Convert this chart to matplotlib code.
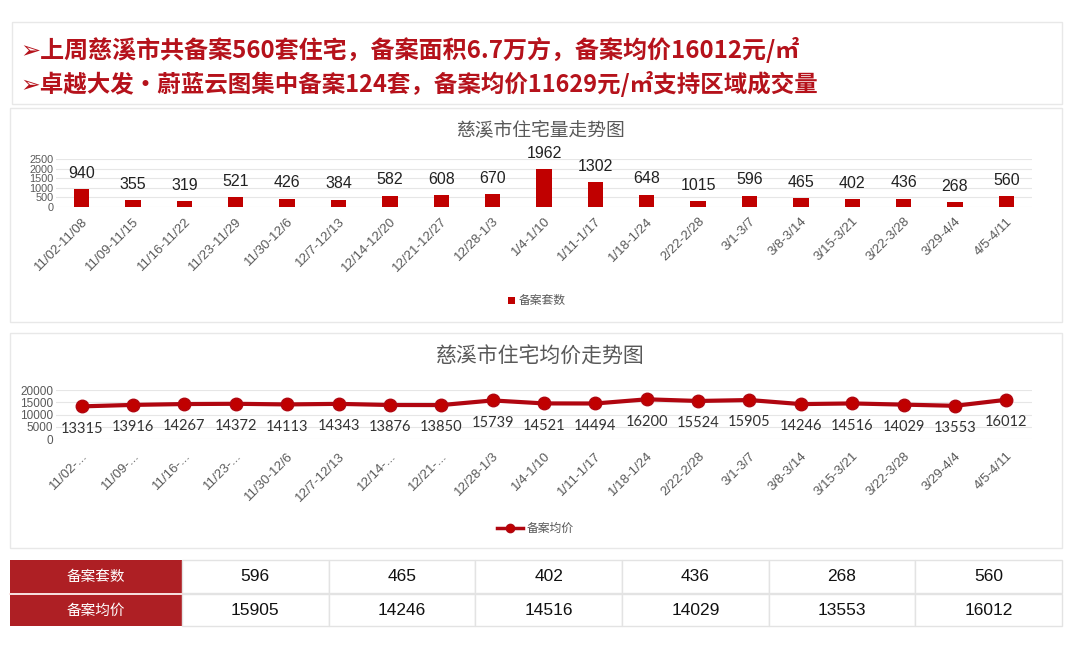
import matplotlib
matplotlib.use("Agg")
import matplotlib.pyplot as plt
from matplotlib.patches import Rectangle
from matplotlib.lines import Line2D

plt.rcParams['font.family'] = ['Noto Sans CJK SC', 'DejaVu Sans']

# ---------------- data ----------------
weeks = ["11/02-11/08", "11/09-11/15", "11/16-11/22", "11/23-11/29", "11/30-12/6",
         "12/7-12/13", "12/14-12/20", "12/21-12/27", "12/28-1/3", "1/4-1/10",
         "1/11-1/17", "1/18-1/24", "2/22-2/28", "3/1-3/7", "3/8-3/14",
         "3/15-3/21", "3/22-3/28", "3/29-4/4", "4/5-4/11"]
line_ticks = ["11/02-...", "11/09-...", "11/16-...", "11/23-...", "11/30-12/6",
              "12/7-12/13", "12/14-...", "12/21-...", "12/28-1/3", "1/4-1/10",
              "1/11-1/17", "1/18-1/24", "2/22-2/28", "3/1-3/7", "3/8-3/14",
              "3/15-3/21", "3/22-3/28", "3/29-4/4", "4/5-4/11"]
units_labels = [940, 355, 319, 521, 426, 384, 582, 608, 670, 1962,
                1302, 648, 1015, 596, 465, 402, 436, 268, 560]
# bar heights as drawn in the picture (the 2/22-2/28 bar is drawn short)
units_bars = [940, 355, 319, 521, 426, 384, 582, 608, 670, 1962,
              1302, 648, 310, 596, 465, 402, 436, 268, 560]
avg_price = [13315, 13916, 14267, 14372, 14113, 14343, 13876, 13850, 15739, 14521,
             14494, 16200, 15524, 15905, 14246, 14516, 14029, 13553, 16012]
table_rows = ["备案套数", "备案均价"]
table_units = [596, 465, 402, 436, 268, 560]
table_prices = [15905, 14246, 14516, 14029, 13553, 16012]
header_lines = ["➢上周慈溪市共备案560套住宅，备案面积6.7万方，备案均价16012元/㎡",
                "➢卓越大发•蔚蓝云图集中备案124套，备案均价11629元/㎡支持区域成交量"]
bar_title = "慈溪市住宅量走势图"
line_title = "慈溪市住宅均价走势图"
bar_legend = "备案套数"
line_legend = "备案均价"

# ---------------- figure ----------------
W, H = 1080, 649
fig = plt.figure(figsize=(W / 100, H / 100), dpi=100)
fig.patch.set_facecolor("white")

RED = "#B5121B"
BAR = "#C00000"
LINE = "#B00610"
GRAY = "#595959"
GRID = "#E6E6E6"
BORDER = "#E8E8E8"


def fx(px):
    return px / W


def fy(py):
    return 1 - py / H


def panel(x0, y0, x1, y1, fc="white", ec=BORDER, lw=1.0, z=-5):
    r = Rectangle((fx(x0), fy(y1)), fx(x1) - fx(x0), fy(y0) - fy(y1),
                  transform=fig.transFigure, facecolor=fc, edgecolor=ec, lw=lw, zorder=z)
    fig.patches.append(r)


# header box & panels
panel(12, 22, 1062, 104)
panel(10, 108, 1062, 322)
panel(10, 333, 1062, 548)

for i, (t, fs) in enumerate(zip(header_lines, [17.3, 16.9])):
    fig.text(fx(20), fy(50 + 34 * i), t, fontsize=fs, fontweight="bold", color=RED,
             ha="left", va="center", family=['Noto Sans CJK SC', 'DejaVu Sans'])

x = list(range(len(weeks)))
left, right = 56, 1032

# ---------------- bar chart ----------------
ax1 = fig.add_axes([fx(left), fy(207), fx(right) - fx(left), fy(159) - fy(207)])
ax1.patch.set_alpha(0)
ax1.bar(x, units_bars, width=0.3, color=BAR, zorder=3, label=bar_legend)
ax1.set_xlim(-0.5, len(weeks) - 0.5)
ax1.set_ylim(0, 2500)
ax1.set_yticks(range(0, 2501, 500))
ax1.grid(axis="y", color=GRID, lw=0.8, zorder=0)
for s in ax1.spines.values():
    s.set_visible(False)
ax1.tick_params(length=0, pad=2)
ax1.tick_params(axis="x", pad=6)
ax1.tick_params(axis="y", labelsize=7.8, labelcolor=GRAY)
ax1.set_xticks(x)
ax1.set_xticklabels(weeks, rotation=45, ha="right", rotation_mode="anchor",
                    fontsize=9.5, color=GRAY, family=['Liberation Sans', 'DejaVu Sans'])
for yl in ax1.get_yticklabels():
    yl.set_family(['Liberation Sans', 'DejaVu Sans'])
for xi, h, lab in zip(x, units_bars, units_labels):
    ax1.annotate(str(lab), (xi, h), xytext=(0, 6), textcoords="offset points",
                 ha="center", va="bottom", fontsize=11.5, color="#222222",
                 family=['Liberation Sans', 'DejaVu Sans'])
fig.text(0.5, fy(130), bar_title, ha="center", va="center", fontsize=13.5, color=GRAY)
fig.patches.append(Rectangle((fx(508), fy(304)), fx(7) - fx(0), fy(0) - fy(7),
                             transform=fig.transFigure, facecolor=BAR, edgecolor="none"))
fig.text(fx(519), fy(300.5), bar_legend, ha="left", va="center", fontsize=8.5, color=GRAY)

# ---------------- line chart ----------------
ax2 = fig.add_axes([fx(left), fy(439), fx(right) - fx(left), fy(390) - fy(439)])
ax2.patch.set_alpha(0)
ax2.plot(x, avg_price, color=LINE, lw=3, marker="o", markersize=9,
         markerfacecolor=BAR, markeredgecolor=LINE, zorder=3)
ax2.set_xlim(-0.5, len(weeks) - 0.5)
ax2.set_ylim(0, 20000)
ax2.set_yticks(range(0, 20001, 5000))
ax2.grid(axis="y", color=GRID, lw=0.8, zorder=0)
for s in ax2.spines.values():
    s.set_visible(False)
ax2.tick_params(length=0, pad=2)
ax2.tick_params(axis="x", pad=8)
ax2.tick_params(axis="y", labelsize=8.5, labelcolor=GRAY)
for yl in ax2.get_yticklabels():
    yl.set_family(['Liberation Sans', 'DejaVu Sans'])
ax2.set_xticks(x)
ax2.set_xticklabels(line_ticks, rotation=45, ha="right", rotation_mode="anchor",
                    fontsize=9.5, color=GRAY, family=['Liberation Sans', 'DejaVu Sans'])
for xi, v in zip(x, avg_price):
    ax2.annotate(str(v), (xi, v), xytext=(0, -11), textcoords="offset points",
                 ha="center", va="top", fontsize=10.5, color="#333333",
                 family=['Lato', 'DejaVu Sans'])
fig.text(0.5, fy(357), line_title, ha="center", va="center", fontsize=15, color=GRAY)
fig.lines.append(Line2D([fx(497), fx(523)], [fy(528), fy(528)], transform=fig.transFigure,
                        color=LINE, lw=2.5, zorder=5))
fig.lines.append(Line2D([fx(510)], [fy(528)], transform=fig.transFigure,
                        color=LINE, marker="o", markersize=6, markerfacecolor=BAR, zorder=6))
fig.text(fx(527), fy(528), line_legend, ha="left", va="center", fontsize=8.5, color=GRAY)

# ---------------- table ----------------
TRED = "#AE1F24"
tx0, tx_split, tx1 = 10, 182, 1062
row_y = [(560, 593), (595, 626)]
for (y0, y1), rname in zip(row_y, table_rows):
    panel(tx0, y0, tx_split, y1, fc=TRED, ec="none")
    fig.text(fx((tx0 + tx_split) / 2), fy((y0 + y1) / 2), rname, ha="center", va="center",
             fontsize=10.5, color="white")
fig.lines.append(Line2D([fx(tx0), fx(tx_split)], [fy(594), fy(594)], transform=fig.transFigure,
                        color="#F4D6D6", lw=1.2))
colw = (tx1 - tx_split) / len(table_units)
for r, ((y0, y1), vals) in enumerate(zip(row_y, [table_units, table_prices])):
    for c, v in enumerate(vals):
        cx0 = tx_split + c * colw
        panel(cx0, y0 - (1 if r == 1 else 0), cx0 + colw, y1, fc="white", ec="#E3E3E3")
        fig.text(fx(cx0 + colw / 2), fy((y0 + y1) / 2), str(v), ha="center", va="center",
                 fontsize=12.5, color="#111111",
                 family=['Liberation Sans Narrow', 'Liberation Sans', 'DejaVu Sans'])

fig.savefig("out.png", dpi=100, facecolor="white")
